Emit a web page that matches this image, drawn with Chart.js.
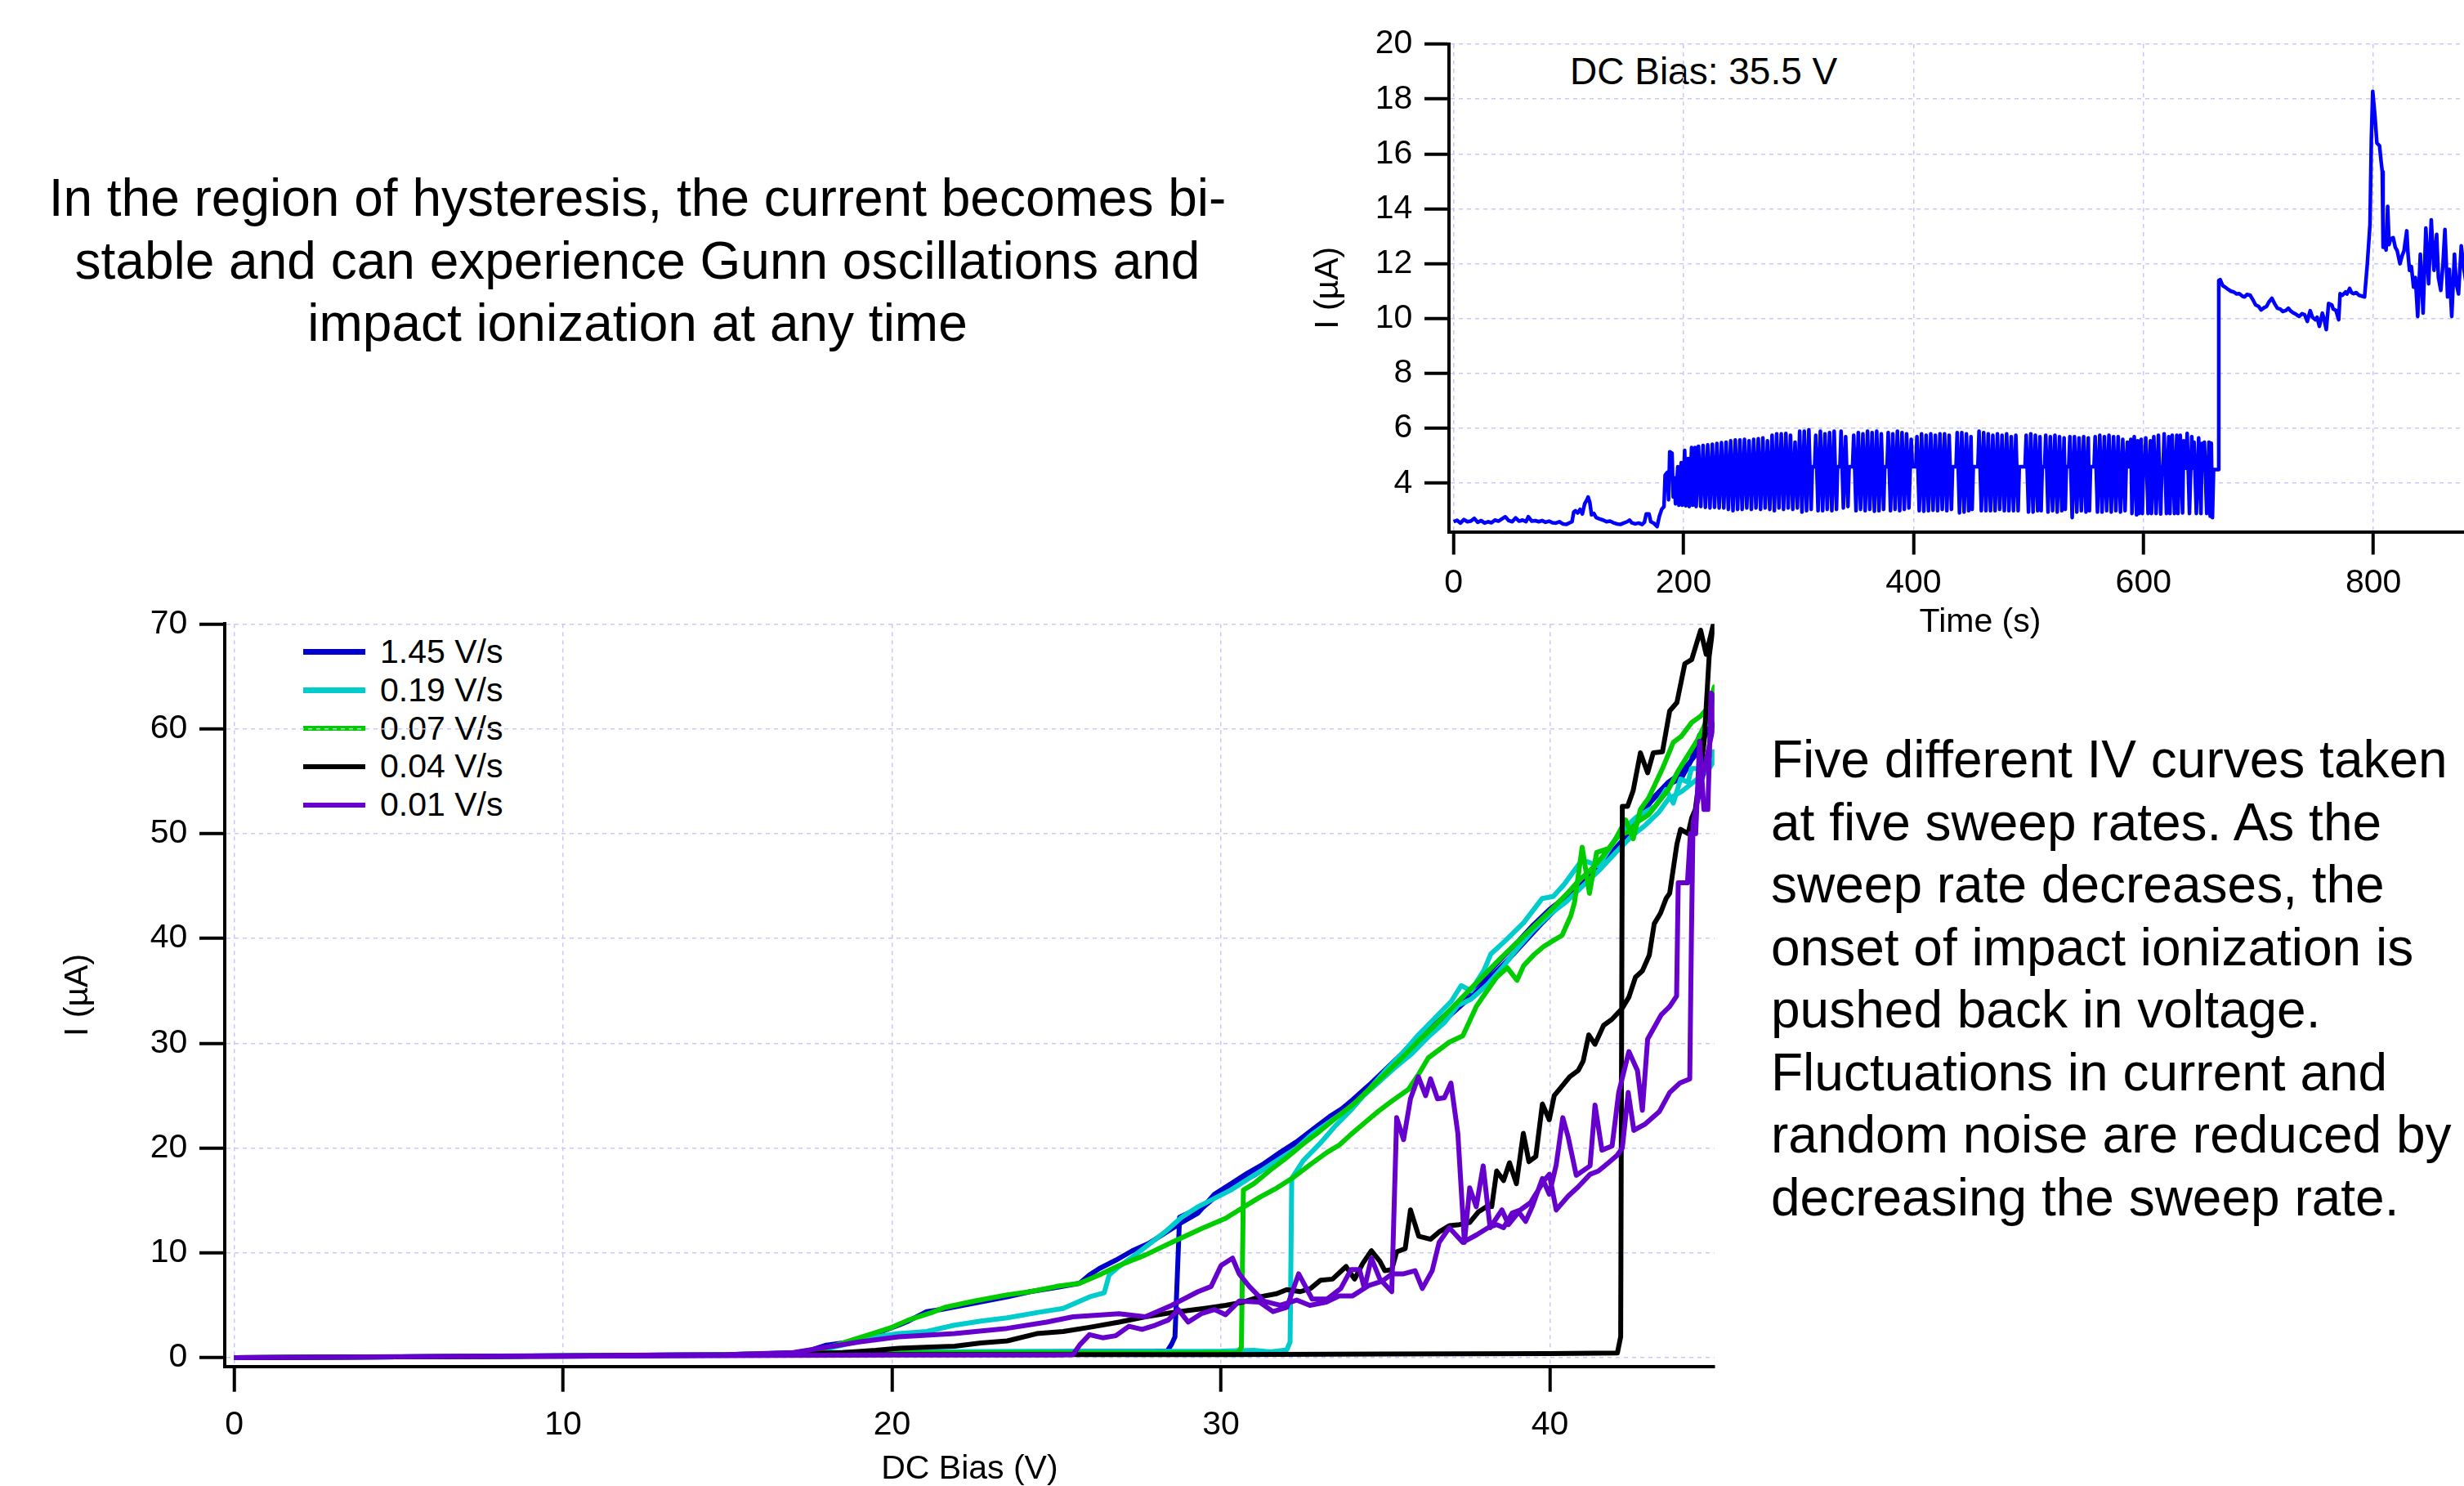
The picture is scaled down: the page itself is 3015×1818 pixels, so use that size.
<!DOCTYPE html>
<html>
<head>
<meta charset="utf-8">
<script src="https://cdn.jsdelivr.net/npm/chart.js@4.4.1/dist/chart.umd.min.js"></script>
<style>
  html, body { margin: 0; padding: 0; width: 3015px; height: 1818px; overflow: hidden; background: #fff; }
  body { position: relative; font-family: "Liberation Sans", Arial, sans-serif; color: #000; }
  canvas { position: absolute; }
  #ivChart { left: 0; top: 700px; }
  #timeChart { left: 1580px; top: 0; }
  .note { position: absolute; font-size: 64px; line-height: 76.5px; white-space: nowrap; }
  #noteLeft { left: 0; width: 1560px; top: 204px; text-align: center; }
  #noteRight { left: 2167px; top: 891px; }
  #biasLabel { position: absolute; left: 1921px; top: 64px; font-size: 46px; line-height: 46px; white-space: nowrap; }
  #legend { position: absolute; left: 371px; top: 774px; }
  .legend-row { height: 46.85px; display: flex; align-items: center; }
  .legend-line { width: 76px; height: 6.5px; margin-right: 18px; }
  .legend-row span { font-size: 41px; white-space: nowrap; }
</style>
</head>
<body>
<div id="noteLeft" class="note">In the region of hysteresis, the current becomes bi-<br>stable and can experience Gunn oscillations and<br>impact ionization at any time</div>
<div id="noteRight" class="note">Five different IV curves taken<br>at five sweep rates. As the<br>sweep rate decreases, the<br>onset of impact ionization is<br>pushed back in voltage.<br>Fluctuations in current and<br>random noise are reduced by<br>decreasing the sweep rate.</div>
<div id="biasLabel">DC Bias: 35.5 V</div>
<div id="legend"></div>
<canvas id="ivChart" width="2140" height="1150"></canvas>
<canvas id="timeChart" width="1513" height="800"></canvas>
<script>
// Axis ticks
const ivXTicks = [0, 10, 20, 30, 40];
const ivYTicks = [0, 10, 20, 30, 40, 50, 60, 70];
const timeXTicks = [0, 200, 400, 600, 800];
const timeYTicks = [4, 6, 8, 10, 12, 14, 16, 18, 20];

// IV sweeps: [DC bias (V), current (uA)], up sweep then back down
const sweepLabels = ['1.45 V/s', '0.19 V/s', '0.07 V/s', '0.04 V/s', '0.01 V/s'];
const sweepColors = ['#0000cc', '#00cccc', '#00cc00', '#000000', '#6600cc'];

const sweep145 = [[0,0],[5,0.08],[10,0.18],[15,0.3],[17,0.45],[20,0.5],[24,0.55],[26,0.6],[28,0.62],[28.37,0.65],[28.5,1.3],[28.6,2.0],[28.74,13.4],[29.0,13.8],[29.4,14.2],[30.0,15.8],[30.5,16.6],[31.0,17.4],[31.5,18.4],[32.0,19.6],[32.5,20.8],[33.0,22.0],[33.5,23.3],[34.0,24.6],[34.5,26.0],[35.0,27.5],[35.5,29.0],[36.0,30.6],[36.5,31.8],[37.0,33.2],[37.5,34.8],[38.0,36.3],[38.5,38.0],[39.0,39.6],[39.5,41.3],[40.0,42.8],[40.5,44.0],[41.0,45.2],[41.5,47.0],[42.0,48.4],[42.5,50.3],[43.0,52.8],[43.5,54.5],[44.0,55.3],[44.3,57.0],[44.55,59.4],[45.0,60.4],
  [44.8,59.8],[44.4,57.4],[44.0,55.8],[43.6,54.9],[43.2,53.6],[42.8,51.9],[42.3,49.7],[41.8,47.9],[41.3,46.2],[40.8,44.6],[40.3,43.2],[39.8,41.6],[39.3,39.9],[38.8,38.2],[38.3,36.6],[37.8,35.0],[37.3,33.6],[36.8,32.2],[36.3,30.8],[35.8,29.4],[35.3,28.0],[34.8,26.5],[34.3,25.3],[33.8,24.0],[33.3,23.0],[32.8,21.8],[32.3,20.6],[31.8,19.6],[31.3,18.5],[30.8,17.6],[30.3,16.6],[29.8,15.6],[29.3,13.8],[28.8,12.9],[28.3,11.9],[27.8,10.9],[27.3,10.2],[26.8,9.3],[26.3,8.5],[26.0,7.9],[25.7,7.1],[25.0,6.7],[24.2,6.3],[23.5,5.8],[22.5,5.2],[21.5,4.6],[21.05,4.4],[20.5,3.5],[20.2,3.1],[19.5,2.3],[19.0,1.8],[18.5,1.4],[18.0,1.2],[17.5,0.7],[17.0,0.45]];

const sweep019 = [[0,0],[5,0.08],[10,0.18],[15,0.3],[17,0.45],[20,0.55],[24,0.6],[28,0.6],[30,0.62],[31,0.7],[31.5,0.55],[32.0,0.75],[32.1,1.5],[32.15,17.1],[32.5,18.8],[33.0,20.4],[33.5,22.2],[34.0,23.8],[34.5,25.6],[35.0,27.4],[35.5,29.0],[36.0,30.8],[36.5,32.4],[37.0,34.0],[37.3,35.5],[37.6,35.0],[38.0,37.0],[38.2,38.5],[38.65,39.8],[39.2,41.5],[39.76,43.8],[40.1,44.0],[40.42,45.1],[40.98,47.5],[41.48,46.9],[42.09,50.0],[42.64,51.6],[43.2,52.6],[43.53,54.2],[43.75,52.9],[43.97,55.2],[44.2,54.9],[44.3,56.2],[44.53,56.2],[44.97,57.8],[45.0,57.0],
  [44.8,56.0],[44.4,55.0],[44.0,54.0],[43.6,53.3],[43.3,52.0],[42.9,50.8],[42.5,49.8],[42.0,48.2],[41.5,46.5],[41.0,45.0],[40.5,43.5],[40.0,42.3],[39.5,40.8],[39.0,39.0],[38.6,37.4],[38.1,35.6],[37.6,34.2],[37.2,33.6],[36.8,32.0],[36.3,30.6],[35.8,29.0],[35.3,27.7],[34.8,26.3],[34.3,24.9],[33.8,23.6],[33.3,22.5],[32.8,21.4],[32.3,20.0],[31.8,19.0],[31.3,18.0],[30.8,17.0],[30.3,16.0],[29.8,15.2],[29.3,14.4],[28.8,13.4],[28.3,12.0],[27.8,10.8],[27.3,9.6],[26.9,8.7],[26.6,7.9],[26.45,6.2],[26.0,5.8],[25.2,4.7],[24.4,4.3],[23.5,3.8],[22.7,3.5],[21.9,3.1],[21.05,2.5],[20.2,2.3],[19.5,2.0],[19.0,1.6],[18.5,1.2],[18.0,0.85],[17.5,0.6],[17.0,0.45]];

const sweep007 = [[0,0],[5,0.08],[10,0.18],[15,0.3],[17,0.4],[20,0.45],[24,0.5],[28,0.45],[30,0.5],[30.5,0.45],[30.62,1.0],[30.68,16.0],[31.0,16.6],[31.5,17.9],[32.0,19.1],[32.5,20.4],[33.0,21.6],[33.5,22.9],[34.0,24.1],[34.5,25.6],[35.0,27.1],[35.5,28.6],[36.0,30.2],[36.5,31.7],[37.0,33.3],[37.5,34.9],[38.0,36.5],[38.5,38.1],[39.0,39.6],[39.5,41.1],[40.0,42.6],[40.5,44.2],[40.9,45.6],[41.2,46.4],[41.6,47.8],[42.0,49.5],[42.3,51.3],[42.53,49.5],[42.75,52.3],[43.0,53.4],[43.42,56.2],[43.75,58.7],[44.0,59.3],[44.31,60.6],[44.58,61.2],[44.8,62.0],[45.0,64.0],
  [45.0,63.5],[44.8,61.0],[44.5,59.0],[44.2,57.5],[43.9,56.0],[43.6,54.2],[43.3,53.0],[43.0,51.8],[42.7,51.2],[42.4,50.2],[42.09,49.8],[41.8,48.6],[41.42,48.2],[41.2,44.3],[40.98,48.7],[40.75,43.5],[40.64,42.2],[40.37,40.3],[40.0,39.6],[39.8,39.2],[39.5,38.4],[39.2,37.4],[39.0,36.0],[38.7,37.2],[38.38,36.3],[38.0,34.6],[37.76,33.5],[37.35,30.7],[36.94,30.1],[36.3,28.6],[36.0,27.0],[35.7,25.6],[35.2,24.5],[34.78,23.5],[34.4,22.5],[33.95,21.3],[33.6,20.3],[33.23,19.6],[32.7,18.4],[32.2,17.2],[31.7,16.2],[31.17,15.3],[30.6,14.2],[30.14,13.3],[29.4,12.3],[28.5,11.0],[27.7,9.8],[26.9,8.8],[26.3,7.9],[25.7,7.1],[25.0,6.8],[24.2,6.3],[23.5,6.0],[22.5,5.4],[21.6,4.8],[21.2,4.3],[20.5,3.6],[20.0,2.9],[19.4,2.3],[18.9,1.8],[18.3,1.2],[17.8,0.8],[17.0,0.45],[15,0.3],[10,0.18],[5,0.08],[0,0]];

const sweep004 = [[0,0],[5,0.08],[10,0.15],[15,0.25],[20,0.3],[25,0.3],[30,0.3],[35,0.35],[40,0.4],[42.05,0.45],[42.15,2.0],[42.2,52.6],[42.36,52.6],[42.53,54.1],[42.75,57.7],[42.97,55.8],[43.14,57.7],[43.42,57.8],[43.64,61.7],[43.86,62.5],[44.1,66.2],[44.31,66.6],[44.58,69.4],[44.75,67.1],[44.97,70.0],
  [44.84,66.9],[44.69,58.8],[44.42,52.3],[44.31,51.5],[44.2,50.0],[43.97,50.4],[43.86,49.0],[43.64,44.3],[43.53,43.8],[43.36,42.4],[43.17,41.4],[43.02,38.4],[42.81,36.9],[42.6,36.3],[42.4,34.4],[42.19,33.3],[41.89,32.3],[41.63,31.7],[41.37,29.9],[41.18,30.8],[41.01,28.3],[40.86,27.4],[40.6,26.8],[40.29,25.6],[40.13,25.0],[39.98,22.7],[39.77,24.2],[39.57,19.2],[39.36,18.7],[39.19,21.4],[38.98,16.6],[38.77,18.6],[38.59,16.9],[38.38,17.8],[38.23,14.4],[38.07,14.4],[37.82,13.9],[37.56,12.9],[37.25,12.7],[36.94,12.6],[36.63,12.0],[36.37,11.3],[36.01,11.6],[35.76,14.1],[35.6,10.4],[35.34,10.1],[35.19,8.4],[34.98,8.3],[34.83,9.2],[34.57,10.2],[34.31,9.0],[34.06,7.5],[33.8,8.7],[33.39,7.5],[33.03,7.4],[32.72,6.6],[32.41,6.3],[32.0,6.5],[31.69,6.1],[31.17,5.8],[30.66,5.3],[30.14,5.0],[29.5,4.7],[29.0,4.5],[28.5,4.3],[27.7,3.9],[26.9,3.4],[26.0,2.9],[25.2,2.5],[24.4,2.3],[23.5,1.6],[22.7,1.4],[21.9,1.1],[21.0,1.0],[20.2,0.9],[19.5,0.7],[18.5,0.5],[17.0,0.35],[15,0.25],[10,0.15],[5,0.08],[0,0]];

const sweep001 = [[0,0],[5,0.08],[10,0.15],[15,0.2],[20,0.25],[25,0.25],[25.5,0.3],[25.7,1.2],[26.0,2.2],[26.4,1.9],[26.8,2.1],[27.2,3.0],[27.6,2.7],[28.0,3.1],[28.4,3.6],[28.7,4.6],[29.0,3.4],[29.4,4.2],[29.8,4.6],[30.14,4.1],[30.55,5.4],[31.17,5.3],[31.58,4.4],[32.0,4.8],[32.36,8.0],[32.77,5.6],[33.23,5.6],[33.64,6.6],[33.95,8.4],[34.21,8.4],[34.36,6.6],[34.57,9.5],[34.83,7.5],[35.19,6.3],[35.34,22.9],[35.55,20.8],[35.76,24.7],[36.0,26.8],[36.22,25.0],[36.37,26.6],[36.58,24.7],[36.79,24.8],[36.99,26.2],[37.2,21.4],[37.4,11.0],[37.56,16.2],[37.76,14.4],[37.97,18.3],[38.18,12.4],[38.54,14.1],[38.74,12.7],[39.05,13.9],[39.26,13.0],[39.46,14.4],[39.77,17.1],[39.98,15.6],[40.19,18.4],[40.39,22.9],[40.55,21.1],[40.8,17.4],[41.22,18.3],[41.37,24.1],[41.58,19.8],[41.89,20.2],[42.09,25.3],[42.4,29.2],[42.66,27.4],[42.81,23.6],[42.97,30.4],[43.38,32.7],[43.64,33.5],[43.85,34.5],[43.9,45.3],[44.18,45.3],[44.27,50.0],[44.43,50.0],[44.55,58.8],[44.68,52.3],[44.8,52.3],[44.9,63.4],[45.0,63.0],
  [44.95,60.0],[44.35,51.0],[44.3,40.0],[44.25,26.6],[43.95,26.2],[43.64,25.3],[43.33,23.5],[42.9,22.3],[42.55,21.7],[42.38,25.3],[42.2,20.0],[42.04,19.3],[41.78,18.6],[41.47,17.8],[41.22,17.5],[40.86,16.3],[40.55,15.4],[40.19,14.1],[39.98,17.5],[39.82,16.9],[39.41,14.8],[39.1,14.1],[38.85,13.8],[38.59,12.4],[38.38,12.7],[38.12,12.4],[37.76,11.7],[37.35,11.0],[36.94,12.4],[36.63,11.0],[36.42,8.3],[36.12,6.6],[35.9,8.3],[35.55,8.0],[35.2,8.0],[34.9,7.3],[34.5,6.9],[34.0,5.9],[33.6,5.9],[33.2,5.3],[32.7,5.0],[32.3,5.5],[31.8,5.0],[31.3,5.4],[30.86,6.8],[30.55,8.0],[30.35,9.5],[30.0,8.8],[29.7,6.8],[29.3,6.3],[28.5,5.0],[27.7,3.9],[26.9,4.2],[25.5,3.9],[24.7,3.4],[23.5,2.8],[21.9,2.3],[20.2,2.0],[19.0,1.5],[18.0,1.0],[17.0,0.5],[15.0,0.3],[10.0,0.2],[5.0,0.1],[0,0]];

// Current vs time at 35.5 V: [time (s), current (uA)]
const traceQuiet = [[0,2.6],[3,2.65],[6,2.55],[9,2.68],[12,2.6],[15,2.62],[18,2.72],[21,2.58],[24,2.64],[27,2.55],[30,2.6],[33,2.56],[36,2.66],[39,2.62],[42,2.7],[45,2.78],[48,2.64],[51,2.6],[54,2.74],[57,2.62],[60,2.66],[63,2.6],[65,2.78],[68,2.62],[71,2.64],[74,2.6],[77,2.64],[80,2.58],[83,2.62],[86,2.56],[89,2.55],[92,2.6],[95,2.52],[98,2.5],[101,2.56],[103,2.6],[104.5,2.95],[106,3.0],[108,2.92],[110,3.05],[112,2.88],[114,3.25],[116,3.4],[117,3.5],[118.5,3.3],[120,2.85],[122,2.9],[124,2.75],[127,2.7],[130,2.66],[133,2.6],[136,2.62],[139,2.56],[142,2.52],[145,2.5],[148,2.55],[151,2.6],[153,2.66],[155,2.56],[158,2.52],[161,2.55],[164,2.5],[166,2.58],[167.5,2.88],[170,2.88],[171.5,2.6],[174,2.55],[177,2.42],[179,2.8],[181,3.05],[183,3.15]];

const traceBistable = [[184,4.3],[186,4.4],[187,3.4],[188,5.15],[190,5.1],[191,3.5],[192,4.2],[193,3.25],[195,4.6],[196,3.2],[198,4.75],[199,3.2],[201,5.2],[202,3.18],[204,4.9],[205,3.15],[207,5.3],[208,3.2],[210,5.3],[211,3.15],[213,5.35],[215,3.15],[217,5.38],[219,3.12],[221,5.4],[223,3.1],[225,5.42],[227,3.12],[229,5.45],[231,3.1],[233,5.48],[235,3.1],[237,5.5],[239,3.05],[241,5.55],[243,3.0],[245,5.58],[247,3.05],[249,5.58],[251,3.05],[253,5.6],[255,3.1],[257,5.55],[259,3.05],[261,5.6],[263,3.1],[265,5.62],[267,3.05],[269,5.65],[271,3.1],[273,5.55],[275,3.05],[277,5.75],[279,3.0],[281,5.8],[283,3.1],[285,5.8],[287,3.05],[289,5.82],[291,3.1],[293,5.75],[295,3.05],[297,5.5],[299,3.1],
  [301,5.9],[303,2.95],[305,5.9],[307,3.0],[309,5.95],[311,3.05],[312,4.6],[314,4.6],[315,5.75],[317,3.0],[319,5.9],[321,3.0],[323,5.8],[325,3.05],[327,5.85],[329,3.0],[331,5.9],[333,3.05],[334,4.6],[336,4.6],[337,5.9],[339,3.1],[341,5.7],[343,3.15],[344,4.6],[347,4.6],[348,5.75],[350,3.0],[352,5.85],[354,3.05],[356,5.8],[358,3.0],[360,5.9],[362,3.05],[364,5.85],[366,2.98],[368,5.9],[370,3.0],[372,5.8],[374,3.05],[375,4.6],[377,4.6],[378,5.85],[380,3.0],[382,5.8],[384,3.05],[386,5.9],[388,3.0],[390,5.85],[392,3.05],[394,5.8],[396,3.1],[398,5.6],[399,4.6],[402,4.6],[403,5.7],[405,3.0],[407,5.8],[409,2.98],[411,5.75],[413,3.0],[415,5.8],[417,3.02],[419,5.75],[421,3.0],[423,5.8],[425,3.05],[427,5.8],[429,3.0],[431,5.75],[433,3.05],[434,4.6],[437,4.6],[438,5.85],[440,2.92],[442,5.85],[444,2.95],[446,5.8],[448,3.0],[450,5.7],[451,3.05],[452,4.6],[456,4.6],[457,5.9],[459,3.0],[461,5.85],[463,3.0],[465,5.8],[467,3.0],[469,5.75],[471,3.0],[473,5.8],[475,3.05],[477,5.75],[479,3.0],[481,5.8],[483,3.0],[485,5.7],[487,3.0],[489,5.75],[491,3.0],[492,4.6],[497,4.6],[498,5.75],[500,2.95],[502,5.8],[504,2.95],[506,5.75],[508,3.0],[510,5.7],[511,3.0],[512,4.6],[514,4.6],[515,5.75],[517,2.95],[519,5.7],[521,3.0],[523,5.75],[525,2.95],[527,5.7],[529,3.0],[531,5.65],[532,3.05],[533,4.6],[535,4.6],[536,5.7],[538,2.75],[540,5.7],[542,2.95],[544,5.65],[546,3.0],[548,5.7],[550,2.95],[552,5.65],[553,3.0],[554,4.6],[557,4.6],[558,5.7],[560,2.95],[562,5.75],[564,2.95],[566,5.7],[568,3.0],[570,5.75],[572,2.95],[574,5.7],[576,3.0],[578,5.7],[580,2.95],[582,5.6],[584,3.0],
  [585,4.6],[586,5.5],[587,4.6],[588,4.6],[589,5.6],[590,2.9],[592,5.7],[594,2.85],[595,5.55],[596,2.9],[597,4.6],[598,5.6],[599,2.9],[600,4.6],[601,4.6],[602,5.65],[604,2.9],[606,5.55],[607,2.9],[609,5.7],[611,2.9],[613,5.75],[615,2.88],[616,4.6],[617,4.55],[618,5.8],[620,2.9],[622,5.7],[623,2.9],[624,4.6],[625,5.75],[627,2.9],[629,5.75],[630,2.9],[631,4.6],[632,5.75],[634,2.92],[635,5.55],[636,4.55],[637,4.55],[638,5.82],[640,2.9],[642,5.7],[643,4.55],[644,5.5],[646,2.9],[648,5.65],[650,2.9],[651,5.45],[652,4.55],[653,5.5],[655,2.9],[657,5.5],[658,2.8],[659,5.46],[660,2.75],[661,4.5],[665,4.5]];

const traceHigh = [[665.5,11.39],[666.7,11.42],[669,11.2],[671,11.15],[673.8,11.06],[676,11.0],[678.6,10.97],[681,10.9],[683.3,10.91],[686,10.82],[688,10.79],[690,10.88],[692.8,10.85],[695,10.7],[697.5,10.5],[700,10.45],[702.3,10.32],[705,10.4],[707,10.44],[709,10.6],[711.7,10.74],[714,10.55],[716.5,10.38],[719,10.35],[721.2,10.26],[724,10.3],[726,10.38],[728,10.28],[730.7,10.2],[733,10.15],[735.4,10.08],[738,10.18],[740.2,10.14],[742.5,9.9],[745,10.29],[747,10.05],[749.6,9.96],[751,10.05],[753,9.72],[755.6,10.2],[757,10.0],[759,9.6],[761,10.55],[763.8,10.5],[765,10.35],[767.4,10.3],[769.8,9.96],[771,10.91],[773,10.85],[775.7,10.97],[777,10.9],[779.3,11.1],[781,10.95],[782.8,10.91],[785,10.95],[787.5,10.85],[790,10.82],[792.3,10.79],[794.7,12.0],[797,13.43],[798.2,16.55],[799.4,18.28],[801.3,17.4],[803,16.4],[805.3,16.3],[806.5,15.8],[807.7,15.35],[808.4,12.6],[810,12.83],[811,12.5],[812.4,14.09],[813.6,12.7],[815,12.9],[817.2,12.95],[819,12.6],[820.7,12.47],[823.1,12.0],[825,12.3],[826.6,12.47],[829,13.2],[830,12.4],[831.4,11.76],[833,11.9],[834.9,11.15],[836.5,11.5],[838.5,10.08],[840.8,12.35],[843.2,10.2],[845.6,13.3],[848,11.27],[850.3,13.6],[852.7,11.76],[855,13.07],[856.5,11.5],[858.6,11.03],[860.5,12.0],[862.2,13.25],[864.5,10.79],[866,11.8],[868.1,10.08],[870.5,12.35],[872,11.3],[874,10.9],[876.4,12.65],[878.8,11.76],[881,11.2],[884,12.3]];

Chart.defaults.font.family = '"Liberation Sans", Arial, sans-serif';
Chart.defaults.color = '#000';

const gridColor = '#c8c8ff';
const tickFont = { size: 41 };

// HTML legend for the IV chart
const legendBox = document.getElementById('legend');
sweepLabels.forEach((label, i) => {
    const row = document.createElement('div');
    row.className = 'legend-row';
    const line = document.createElement('div');
    line.className = 'legend-line';
    line.style.background = sweepColors[i];
    const text = document.createElement('span');
    text.textContent = label;
    row.appendChild(line);
    row.appendChild(text);
    legendBox.appendChild(row);
});

function axis(opts) {
    return {
        type: 'linear',
        min: opts.min,
        max: opts.max,
        afterBuildTicks: s => { s.ticks = opts.ticks.map(v => ({ value: v })); },
        afterFit: s => {
            if (opts.width) s.width = opts.width;
            if (opts.height) s.height = opts.height;
        },
        grid: {
            color: gridColor,
            lineWidth: 1.5,
            tickColor: '#000',
            tickWidth: 4,
            tickLength: opts.tickLength
        },
        border: { display: true, color: '#000', width: 4, dash: [5, 5] },
        ticks: { font: tickFont, padding: opts.tickPad, maxRotation: 0, autoSkip: false },
        title: { display: true, text: opts.title, font: { size: 41 }, padding: opts.titlePad }
    };
}

// IV curves at five sweep rates
const ivSweeps = [sweep145, sweep019, sweep007, sweep004, sweep001];
new Chart(document.getElementById('ivChart'), {
    type: 'scatter',
    data: {
        datasets: ivSweeps.map((pts, i) => ({
            label: sweepLabels[i],
            data: pts,
            showLine: true,
            borderColor: sweepColors[i],
            backgroundColor: sweepColors[i],
            borderWidth: 6,
            borderJoinStyle: 'round',
            pointRadius: 0,
            tension: 0,
            order: 5 - i
        }))
    },
    options: {
        responsive: false,
        devicePixelRatio: 1,
        animation: false,
        layout: { padding: { left: 0, top: 63.3, right: 42.2, bottom: 0 } },
        plugins: { legend: { display: false }, tooltip: { enabled: false } },
        scales: {
            x: axis({ min: -0.288, max: 45, ticks: ivXTicks, height: 178.3, tickLength: 31, tickPad: 16,
                      title: 'DC Bias (V)', titlePad: { top: 0, bottom: 27.4 } }),
            y: axis({ min: -0.83, max: 70, ticks: ivYTicks, width: 275, tickLength: 31, tickPad: 14.7,
                      title: 'I (\u00b5A)', titlePad: { top: 71.4, bottom: 0 } })
        }
    }
});

// Current vs time at fixed bias
new Chart(document.getElementById('timeChart'), {
    type: 'scatter',
    data: {
        datasets: [{
            label: 'I(t)',
            data: [...traceQuiet, ...traceBistable, ...traceHigh],
            showLine: true,
            borderColor: '#0000ff',
            borderWidth: 4.5,
            borderJoinStyle: 'round',
            pointRadius: 0,
            tension: 0
        }]
    },
    options: {
        responsive: false,
        devicePixelRatio: 1,
        animation: false,
        layout: { padding: { left: 0, top: 54.1, right: 20, bottom: 0 } },
        plugins: { legend: { display: false }, tooltip: { enabled: false } },
        scales: {
            x: axis({ min: -4, max: 920, ticks: timeXTicks, height: 149.5, tickLength: 28, tickPad: 11,
                      title: 'Time (s)', titlePad: { top: 0, bottom: 13.9 } }),
            y: axis({ min: 2.235, max: 20, ticks: timeYTicks, width: 193, tickLength: 30, tickPad: 14.6,
                      title: 'I (\u00b5A)', titlePad: { top: 21.2, bottom: 0 } })
        }
    }
});
</script>
</body>
</html>
